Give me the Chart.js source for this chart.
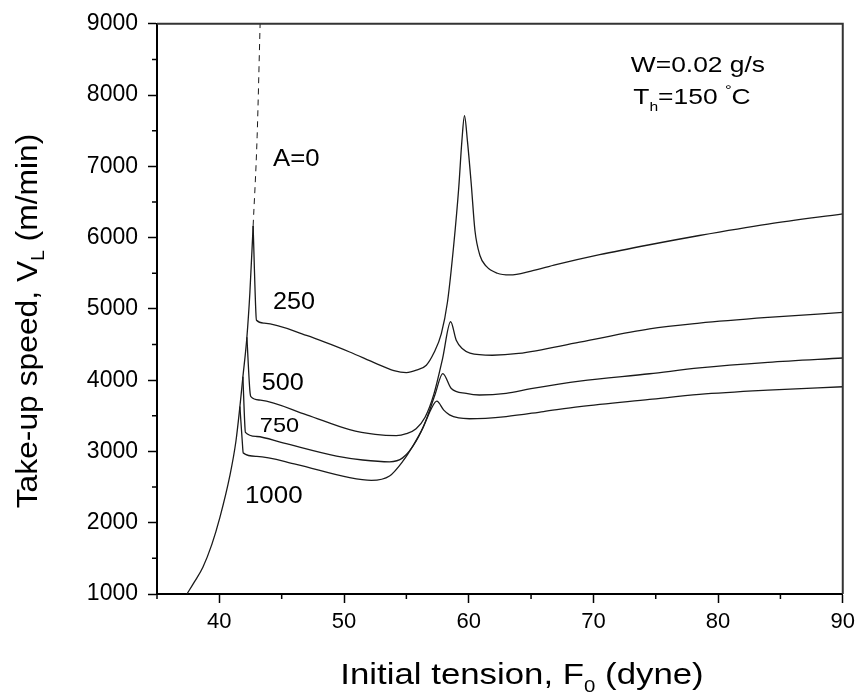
<!DOCTYPE html>
<html>
<head>
<meta charset="utf-8">
<script src="https://cdn.jsdelivr.net/npm/chart.js@4.4.1/dist/chart.umd.min.js"></script>
<style>
  html, body { margin: 0; padding: 0; background: #fff; }
</style>
</head>
<body>
<canvas id="myChart" width="861" height="692"></canvas>
<script>
// axes
var xMin = 35, xMax = 90, xStep = 5, xLabelEvery = 10;
var yMin = 1000, yMax = 9000, yStep = 500, yLabelEvery = 1000;

// common rising branch (all curves follow it up to their spike)
var envX = [37.40, 38.0, 38.68, 39.4, 40.04, 40.84, 41.33, 41.65, 41.89, 42.21, 42.45, 42.71];
var envY = [1000, 1170, 1376, 1696, 2071, 2656, 3143, 3630, 4047, 4603, 5230, 6162];

// A=0 (dashed, goes off the top)
var a0X = [42.71, 43.03, 43.27];
var a0Y = [6162, 7414, 9000];

// A=250
var s250X = [42.71, 42.93, 42.98, 43.6, 46.99, 50.45, 52.5, 54.0, 55.0, 55.8, 56.6, 57.2, 57.8, 58.3, 58.8, 59.2, 59.45, 59.66, 59.9, 60.2, 60.5, 60.9, 61.4, 62.3, 63.3, 65, 67, 70.5, 74.5, 78.5, 84, 90];
var s250Y = [6162, 4950, 4840, 4800, 4627, 4395, 4240, 4135, 4107, 4140, 4210, 4380, 4650, 5100, 5900, 6700, 7350, 7710, 7350, 6760, 6100, 5750, 5600, 5500, 5476, 5530, 5620, 5760, 5900, 6030, 6190, 6333];

// A=500
var s500X = [42.21, 42.45, 42.53, 43.3, 47.0, 50.45, 52.5, 54.19, 55.0, 55.78, 56.5, 57.2, 57.9, 58.55, 59.0, 59.5, 60.1, 61.9, 64, 68.9, 74.5, 78.5, 84, 90];
var s500Y = [4603, 3850, 3769, 3720, 3514, 3306, 3240, 3222, 3250, 3320, 3480, 3800, 4300, 4820, 4560, 4440, 4380, 4350, 4375, 4534, 4720, 4800, 4880, 4951];

// A=750
var s750X = [41.89, 42.05, 42.09, 43.0, 45.1, 49.4, 51.5, 53.65, 54.7, 55.8, 56.6, 57.3, 57.92, 58.6, 59.8, 60.86, 63, 65, 68.9, 74.5, 78.5, 84, 90];
var s750Y = [4047, 3350, 3268, 3210, 3119, 2934, 2880, 2855, 2910, 3150, 3450, 3800, 4093, 3884, 3814, 3792, 3815, 3880, 3987, 4090, 4172, 4250, 4311];

// A=1000
var s1000X = [41.65, 41.87, 41.91, 43.0, 46.17, 50.45, 52.19, 53.65, 54.72, 55.6, 56.32, 57.0, 57.44, 58.0, 58.46, 59.2, 60.06, 63, 66, 68.9, 74.5, 78.5, 84, 90];
var s1000Y = [3630, 3060, 2980, 2930, 2818, 2632, 2595, 2656, 2864, 3100, 3327, 3600, 3705, 3580, 3514, 3470, 3459, 3490, 3560, 3630, 3730, 3800, 3860, 3908];

var FONT = "'Liberation Sans', Arial, sans-serif";

function pts(xs, ys) {
  return xs.map(function (v, i) { return {x: v, y: ys[i]}; });
}

function curve(xs, ys, dashed) {
  return {
    data: pts(xs, ys),
    borderColor: '#1a1a1a',
    borderWidth: dashed ? 1 : 1.3,
    borderDash: dashed ? [6, 5] : [],
    cubicInterpolationMode: 'monotone',
    pointRadius: 0,
    fill: false
  };
}

// in-plot labels, placed in data coordinates (left edge / baseline)
var plotLabels = [
  {runs: [{t: 'A=0', s: 23}], x: 44.3, y: 7000, sx: 1.12},
  {runs: [{t: '250', s: 24}], x: 44.3, y: 4993, sx: 1.05},
  {runs: [{t: '500', s: 24}], x: 43.4, y: 3866, sx: 1.05},
  {runs: [{t: '750', s: 21}], x: 43.25, y: 3268, sx: 1.12},
  {runs: [{t: '1000', s: 24}], x: 42.05, y: 2280, sx: 1.08},
  {runs: [{t: 'W=0.02 g/s', s: 22}], x: 73.0, y: 8318, sx: 1.2},
  {runs: [{t: 'T', s: 22}, {t: 'h', s: 13, dy: 7}, {t: '=150 ', s: 22}, {t: '\u00b0', s: 14, dy: -9}, {t: 'C', s: 22}], x: 73.2, y: 7873, sx: 1.2}
];

// draw a run of text pieces (sub/superscripts), x,y = start of baseline
function drawRuns(ctx, runs, x, y, align, sx) {
  var total = 0;
  runs.forEach(function (r) {
    ctx.font = r.s + 'px ' + FONT;
    r.w = ctx.measureText(r.t).width;
    total += r.w;
  });
  ctx.save();
  ctx.translate(x, y);
  ctx.scale(sx, 1);
  var cx = align === 'center' ? -total / 2 : 0;
  ctx.fillStyle = '#000';
  ctx.textBaseline = 'alphabetic';
  ctx.textAlign = 'left';
  runs.forEach(function (r) {
    ctx.font = r.s + 'px ' + FONT;
    ctx.fillText(r.t, cx, r.dy || 0);
    cx += r.w;
  });
  ctx.restore();
}

var extras = {
  id: 'extras',
  afterDraw: function (chart) {
    var ctx = chart.ctx, a = chart.chartArea;
    var xs = chart.scales.x, ys = chart.scales.y;
    ctx.save();
    // top and right frame
    ctx.strokeStyle = '#333';
    ctx.lineWidth = 2;
    ctx.beginPath();
    ctx.moveTo(a.left, a.top);
    ctx.lineTo(a.right, a.top);
    ctx.lineTo(a.right, a.bottom);
    ctx.stroke();
    // minor ticks
    ctx.strokeStyle = '#000';
    ctx.lineWidth = 1.5;
    ctx.beginPath();
    xs.ticks.forEach(function (t) {
      if (t.value % xLabelEvery !== 0) {
        var px = xs.getPixelForValue(t.value);
        ctx.moveTo(px, a.bottom);
        ctx.lineTo(px, a.bottom + 5);
      }
    });
    ys.ticks.forEach(function (t) {
      if (t.value % yLabelEvery !== 0) {
        var py = ys.getPixelForValue(t.value);
        ctx.moveTo(a.left - 5, py);
        ctx.lineTo(a.left, py);
      }
    });
    ctx.stroke();
    ctx.restore();

    plotLabels.forEach(function (l) {
      drawRuns(ctx, l.runs, xs.getPixelForValue(l.x), ys.getPixelForValue(l.y), 'left', l.sx);
    });

    // axis titles
    drawRuns(ctx, [{t: 'Initial tension, F', s: 29}, {t: '0', s: 17, dy: 8}, {t: ' (dyne)', s: 29}],
      522, 684, 'center', 1.2);

    ctx.save();
    ctx.translate(36.5, 321);
    ctx.rotate(-Math.PI / 2);
    drawRuns(ctx, [{t: 'Take-up speed, V', s: 30}, {t: 'L', s: 18, dy: 7}, {t: ' (m/min)', s: 30}],
      0, 0, 'center', 1.06);
    ctx.restore();
  }
};

new Chart('myChart', {
  type: 'line',
  data: {
    datasets: [
      curve(envX, envY, false),
      curve(a0X, a0Y, true),
      curve(s250X, s250Y, false),
      curve(s500X, s500Y, false),
      curve(s750X, s750Y, false),
      curve(s1000X, s1000Y, false)
    ]
  },
  options: {
    responsive: false,
    animation: false,
    devicePixelRatio: 1,
    layout: {padding: {left: 0, top: 19, right: 16, bottom: 0}},
    plugins: {legend: {display: false}, tooltip: {enabled: false}},
    scales: {
      x: {
        type: 'linear',
        min: xMin, max: xMax,
        afterFit: function (s) { s.height = 98; },
        border: {display: true, color: '#000', width: 2},
        grid: {
          drawOnChartArea: false, tickLength: 9, tickWidth: 1.5,
          tickColor: function (c) { return c.tick && c.tick.value % xLabelEvery === 0 ? '#000' : 'rgba(0,0,0,0)'; }
        },
        ticks: {
          stepSize: xStep, padding: 6, color: '#000', maxRotation: 0, autoSkip: false,
          font: {family: FONT, size: 22},
          callback: function (v) { return v % xLabelEvery === 0 ? v : ''; }
        }
      },
      y: {
        min: yMin, max: yMax,
        afterFit: function (s) { s.width = 157; },
        border: {display: true, color: '#000', width: 2},
        grid: {
          drawOnChartArea: false, tickLength: 9, tickWidth: 1.5,
          tickColor: function (c) { return c.tick && c.tick.value % yLabelEvery === 0 ? '#000' : 'rgba(0,0,0,0)'; }
        },
        ticks: {
          stepSize: yStep, padding: 10, color: '#000', autoSkip: false,
          font: {family: FONT, size: 23},
          callback: function (v) { return v % yLabelEvery === 0 ? v : ''; }
        }
      }
    }
  },
  plugins: [extras]
});
</script>
</body>
</html>
